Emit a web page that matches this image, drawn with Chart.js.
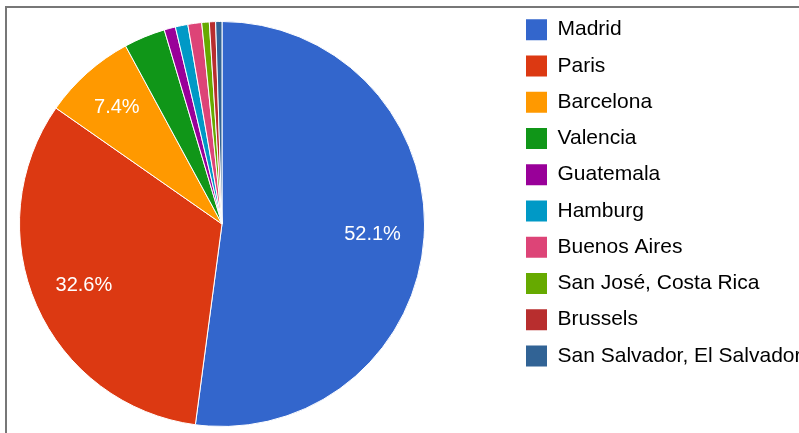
<!DOCTYPE html>
<html>
<head>
<meta charset="utf-8">
<script src="https://cdn.jsdelivr.net/npm/chart.js@4"></script>
<style>
  html, body { margin: 0; padding: 0; background: #fff; }
  #wrap { position: relative; width: 799px; height: 433px; overflow: hidden; }
  #frame { position: absolute; left: 5px; top: 6px; right: -10px; bottom: -10px;
           border-left: 2px solid #777; border-top: 2px solid #777; pointer-events: none; }
  canvas { position: absolute; left: 0; top: 0; }
</style>
</head>
<body>
<div id="wrap">
  <canvas id="c" width="799" height="433"></canvas>
  <div id="frame"></div>
</div>
<script>
const categories = ["Madrid", "Paris", "Barcelona", "Valencia", "Guatemala", "Hamburg",
  "Buenos Aires", "San José, Costa Rica", "Brussels", "San Salvador, El Salvador"];
const shares = [52.1, 32.6, 7.4, 3.3, 0.9, 1.0, 1.1, 0.6, 0.5, 0.5];
const colors = ["#3366cc", "#dc3912", "#ff9900", "#109618", "#990099", "#0099c6",
  "#dd4477", "#66aa00", "#b82e2e", "#316395"];
const labelThreshold = 5; // percent; smaller slices get no text

const sliceText = {
  id: 'sliceText',
  afterDatasetsDraw(chart) {
    const ctx = chart.ctx;
    const meta = chart.getDatasetMeta(0);
    const data = chart.data.datasets[0].data;
    const total = data.reduce((a, b) => a + b, 0);
    ctx.save();
    ctx.font = '20px "Liberation Sans", Arial, sans-serif';
    ctx.fillStyle = '#ffffff';
    ctx.textAlign = 'center';
    ctx.textBaseline = 'middle';
    meta.data.forEach((arc, i) => {
      const pct = data[i] / total * 100;
      if (pct < labelThreshold) return;
      const p = arc.getProps(['x', 'y', 'startAngle', 'endAngle', 'outerRadius'], true);
      const mid = (p.startAngle + p.endAngle) / 2;
      const r = p.outerRadius * (pct > 20 ? 0.745 : 0.78);
      ctx.fillText(pct.toFixed(1) + '%', p.x + Math.cos(mid) * r, p.y + Math.sin(mid) * r + 1);
    });
    ctx.restore();
  }
};

const legendPlace = {
  id: 'legendPlace',
  beforeInit(chart) {
    const lg = chart.legend;
    const origFit = lg.fit;
    lg.fit = function () { origFit.call(this); this.width = 374; };
  },
  afterLayout(chart) {
    const lg = chart.legend;
    const pad = lg.options.labels.padding;
    lg.left = 526 - pad;
    lg.right = 799;
    lg.top = 19.2 - pad;
  }
};

new Chart(document.getElementById('c'), {
  type: 'pie',
  data: {
    labels: categories,
    datasets: [{
      data: shares,
      backgroundColor: colors,
      borderColor: '#ffffff',
      borderWidth: 1
    }]
  },
  options: {
    responsive: false,
    animation: false,
    events: [],
    layout: { padding: { left: 19, top: 21, bottom: 6, right: 0 } },
    plugins: {
      tooltip: { enabled: false },
      legend: {
        position: 'right',
        align: 'start',
        labels: {
          boxWidth: 21,
          boxHeight: 21,
          padding: 15.25,
          color: '#222222',
          font: { family: '"Liberation Sans", Arial, sans-serif', size: 21 },
          generateLabels(chart) {
            return chart.data.labels.map((t, i) => ({
              text: t,
              fillStyle: colors[i],
              strokeStyle: colors[i],
              lineWidth: 0,
              hidden: false,
              index: i
            }));
          }
        }
      }
    }
  },
  plugins: [sliceText, legendPlace]
});
</script>
</body>
</html>
